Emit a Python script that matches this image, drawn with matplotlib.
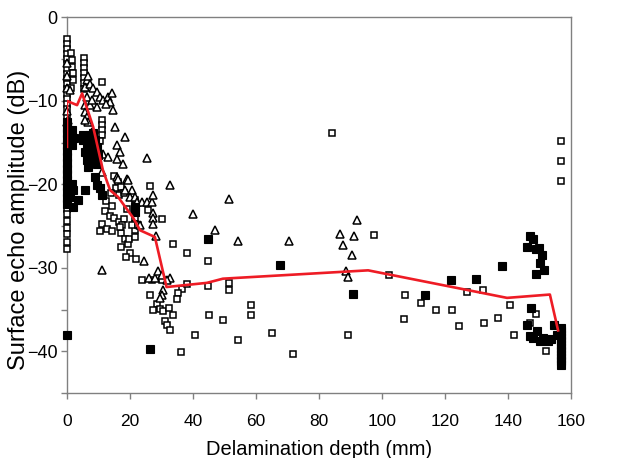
import numpy as np
import matplotlib.pyplot as plt

plt.rcParams['font.family'] = ['Liberation Sans', 'DejaVu Sans']

# open squares
sq_x = [0]*28 + [1.2, 1.5, 1.6, 1.8, 2.0, 1.4] + [5.5]*7 + [11.0] + [11.0, 11.0, 11.0, 11.0, 10.6] + \
    [15.0, 16.2, 15.4, 17.0, 14.0, 16.5, 18.0, 12.5, 14.2, 12.0, 13.6, 15.0, 16.6, 18.0, 11.0, 12.6, 14.2,
     10.5, 19.0, 17.0, 18.5, 17.3, 19.5, 20.0, 18.6, 19.8, 17.5, 16.8] + \
    [21.6]*7 + [20.6, 22.6] + \
    [26.3, 25.7, 30.2, 33.7, 38.0, 21.9, 23.8, 27.0, 30.2,
     36.5, 38.1, 35.2, 34.9, 26.3, 28.6, 29.5, 27.2, 30.4, 32.5, 33.7, 31.1, 31.7, 32.7, 40.6, 36.2, 45.2,
     44.8, 44.8, 51.4, 51.4, 49.5, 58.4, 58.4, 54.3, 65.1, 71.7,
     84.0, 97.5, 89.2, 102.2, 107.3, 112.4, 107.0, 117.1, 122.2, 124.4, 127.0, 132.1, 132.4, 136.8,
     156.8, 156.8, 156.8, 140.6, 141.9, 148.9, 147.0, 152.1]
sq_y = [-2.6, -3.2, -3.8, -4.4, -5.0, -5.6, -6.2, -6.8, -7.4, -8.0, -8.6, -9.2, -9.8, -10.4, -11.0, -11.8,
        -12.6, -13.4, -14.2, -16.5, -18.5, -22.9, -23.6, -24.4, -25.2, -26.0, -26.9, -27.8] + \
    [-4.3, -5.1, -5.9, -6.7, -7.5, -8.4] + [-4.9, -5.5, -6.1, -6.7, -7.3, -7.9, -8.6] + [-7.7] + \
    [-12.3, -12.9, -13.5, -14.1, -14.8] + \
    [-19.0, -19.7, -20.4, -20.3, -21.0, -21.3, -21.0, -22.0, -22.6, -23.2, -23.8, -24.0, -24.5, -24.2, -24.8,
     -25.3, -25.6, -25.6, -23.0, -25.8, -26.5, -27.5, -27.2, -28.2, -28.7, -26.6, -24.9, -25.1] + \
    [-21.9, -22.6, -23.3, -24.0, -24.8, -25.5, -26.3, -24.9, -24.9] + \
    [-20.2, -23.1, -24.1, -27.1, -28.2, -29.0, -31.4, -31.4, -31.4,
     -32.5, -31.9, -33.0, -33.7, -33.2, -34.3, -34.9, -35.1, -35.2, -34.8, -35.6, -36.4, -36.9, -37.4, -38.0,
     -40.1, -35.7,
     -29.2, -32.2, -31.8, -32.7, -36.2, -34.4, -35.6, -38.6, -37.8, -40.3,
     -13.8, -26.1, -38.0, -30.9, -33.2, -34.2, -36.1, -35.0, -35.0, -37.0, -32.9, -32.7, -36.6, -36.0,
     -14.8, -17.2, -19.6, -34.5, -38.0, -35.5, -36.6, -40.0]

# open triangles
tri_x = [0, 0, 0, 0, 0, 1.0, 0.4,
         6.2, 5.7, 6.2, 5.7, 5.7, 6.2, 6.8, 5.7, 7.3, 6.7, 7.2,
         8.4, 9.4, 10.5, 11.5, 13.1, 13.7, 14.7, 7.8, 9.4, 12.3, 14.2, 15.2, 18.4, 15.8, 16.8, 15.8, 17.9,
         25.5, 19.0, 15.8, 7.8, 8.9, 11.5, 13.1, 11.0, 16.3, 19.4,
         32.7, 18.4, 20.6, 20.0, 21.6, 22.2, 23.8, 25.4, 27.0, 27.3, 27.3, 27.3, 27.3, 40.0, 23.2, 28.3,
         24.4, 11.0, 25.9, 28.0, 28.9, 30.2, 32.7, 31.7, 30.5, 30.2, 29.5,
         51.4, 47.0, 54.3, 70.5,
         92.1, 86.7, 91.1, 87.6, 90.5, 88.6, 89.2]
tri_y = [-5.5, -7.0, -8.5, -11.2, -12.5, -8.7, -12.3,
         -7.5, -8.3, -9.5, -10.5, -11.3, -11.9, -12.5, -12.3, -10.5, -7.0, -8.0,
         -8.5, -8.9, -9.5, -9.9, -9.5, -10.1, -11.1, -9.9, -10.7, -10.4, -9.0, -13.1, -14.3, -15.3, -16.1,
         -16.9, -17.6, -16.8, -19.3, -19.1, -13.7, -14.1, -16.3, -16.7, -18.5, -19.3, -19.5,
         -20.1, -20.7, -20.7, -21.5, -21.5, -22.1, -22.1, -22.1, -22.1, -21.3, -23.4, -24.0, -24.7, -23.5,
         -24.9, -26.2, -29.2, -30.2, -31.2, -31.2, -30.4, -30.9, -31.2, -31.5, -32.7, -33.3, -33.6,
         -21.8, -25.5, -26.8, -26.8,
         -24.3, -25.9, -26.2, -27.3, -28.5, -30.4, -31.1]

# filled squares
fil_x = [0]*16 + [1.6, 2.2, 1.5,
         5.2, 6.2, 7.3, 8.4, 5.2, 6.2, 7.8, 8.9, 9.4, 5.7, 7.3, 8.4, 6.2, 7.8, 9.4, 6.8, 8.9, 9.8,
         9.5, 10.5, 11.1, 5.7, 3.6, 2.0, 1.0, 2.0, 1.5, 21.6, 21.6,
         26.3, 44.8, 67.6, 90.8, 113.7, 121.9, 129.8, 138.1,
         147.0, 147.9, 146.0, 148.9, 149.8, 150.8, 150.2, 151.4, 148.9,
         147.3, 146.0, 154.6, 149.2, 147.0, 148.0, 151.1, 150.2, 152.7, 153.7, 155.6] + [156.8]*12
fil_y = [-12.5, -13.2, -13.9, -14.6, -15.3, -16.0, -16.7, -17.4, -18.1, -18.8, -19.5, -20.2, -20.9, -21.6,
         -22.3, -38.1, -13.5, -14.5, -15.3,
         -14.1, -14.3, -14.1, -13.9, -14.7, -15.3, -15.1, -14.7, -15.5, -16.1, -16.1, -16.7, -17.1, -17.3,
         -17.5, -17.9, -19.1, -16.5,
         -20.1, -20.4, -21.3, -20.7, -21.9, -22.7, -21.5, -20.7, -19.9, -22.7, -23.3,
         -39.7, -26.6, -29.7, -33.1, -33.2, -31.5, -31.3, -29.8,
         -26.2, -26.6, -27.5, -27.7, -27.6, -28.5, -29.4, -30.2, -30.7,
         -34.8, -36.8, -36.9, -37.6, -38.2, -38.4, -38.4, -38.8, -38.8, -38.5, -38.1,
         -37.2, -37.6, -38.0, -38.4, -38.8, -39.2, -39.6, -40.0, -40.4, -40.8, -41.2, -41.6]

# red trend line
line_x = [0, 0, 3.2, 4.8, 8.3, 11.4, 13.7, 16.2, 21.0, 23.2, 27.9, 31.6, 44.4, 49.5, 95.6, 139.7, 153.3, 155.9]
line_y = [-15.5, -10.0, -10.5, -9.1, -13.1, -18.3, -20.7, -21.5, -24.0, -25.5, -26.3, -32.3, -31.8, -31.3,
          -30.3, -33.6, -33.2, -37.5]

fig = plt.figure(figsize=(6.25, 4.58), dpi=100)
ax = fig.add_axes([0.1072, 0.1419, 0.8064, 0.8199])

ax.plot(sq_x, sq_y, 's', ms=5, mfc='white', mec='black', mew=1.1, clip_on=False, zorder=3)
ax.plot(tri_x, tri_y, '^', ms=5.5, mfc='white', mec='black', mew=1.1, clip_on=False, zorder=3)
ax.plot(fil_x, fil_y, 's', ms=5.5, mfc='black', mec='black', mew=0.8, clip_on=False, zorder=3)
ax.plot(line_x, line_y, '-', color='#ee1c25', lw=1.9, zorder=4)

ax.set_xlim(0, 160)
ax.set_ylim(-45, 0)
ax.set_xticks(np.arange(0, 161, 20))
ax.set_yticks(np.arange(-40, 1, 10))
ax.set_yticks(np.arange(-45, 1, 5), minor=True)

for s in ax.spines.values():
    s.set_color('#808080')
    s.set_linewidth(1.0)
ax.tick_params(axis='both', which='both', direction='out', color='#808080', length=4, width=1.0)
ax.tick_params(axis='x', labelsize=12.5, pad=11)
ax.tick_params(axis='y', labelsize=13, pad=3)

ax.set_xlabel('Delamination depth (mm)', fontsize=14.5, labelpad=8)
ax.set_ylabel('Surface echo amplitude (dB)', fontsize=17)
ax.yaxis.set_label_coords(-0.074, 0.46)

fig.savefig('out.png', dpi=100)
